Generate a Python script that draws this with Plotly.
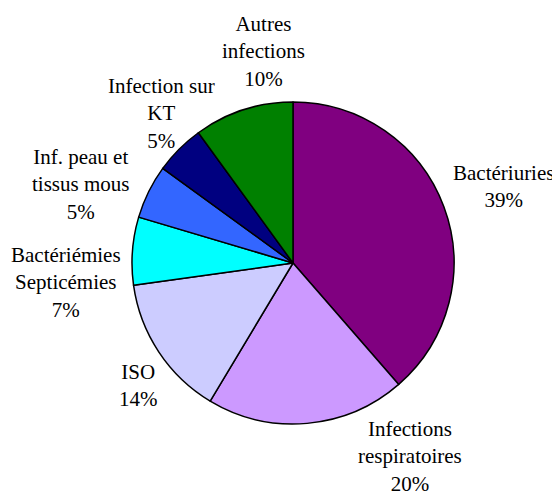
import plotly.graph_objects as go

# data
categories = [
    "Bactériuries",
    "Infections<br>respiratoires",
    "ISO",
    "Bactériémies<br>Septicémies",
    "Inf. peau et<br>tissus mous",
    "Infection sur<br>KT",
    "Autres<br>infections",
]
shares = [38.6, 20.0, 14.2, 6.8, 5.4, 5.0, 10.0]

colors = ["#800080", "#CC99FF", "#CCCCFF", "#00FFFF", "#3366FF", "#000080", "#008000"]

# the page body has an 8px margin, so the figure is drawn that much smaller
OFF = 8
W, H = 560 - OFF, 495 - OFF
cx, cy, r = 293 - OFF, 263 - OFF, 161

# label centres in window pixels (layout only)
label_pos = [(503, 186), (410, 456), (138, 385), (66, 282), (80, 184), (161, 113), (263, 51)]

fig = go.Figure(go.Pie(
    labels=[c.replace("<br>", " ") for c in categories],
    values=shares,
    sort=False,
    direction="clockwise",
    rotation=0,
    textinfo="none",
    hoverinfo="label+percent",
    marker=dict(colors=colors, line=dict(color="black", width=1.5)),
    domain=dict(x=[(cx - r) / W, (cx + r) / W], y=[1 - (cy + r) / H, 1 - (cy - r) / H]),
))

total = sum(shares)
for name, val, (px, py) in zip(categories, shares, label_pos):
    fig.add_annotation(
        x=(px - OFF) / W, y=1 - (py - OFF) / H, xref="paper", yref="paper",
        text=f"{name}<br>{round(val / total * 100)}%",
        showarrow=False, xanchor="center", yanchor="middle", align="center",
        font=dict(family="Liberation Serif", size=21, color="black"),
    )

fig.update_layout(
    width=W, height=H,
    margin=dict(l=0, r=0, t=0, b=0),
    showlegend=False,
    paper_bgcolor="white",
    plot_bgcolor="white",
)

fig.write_html("out.html")
